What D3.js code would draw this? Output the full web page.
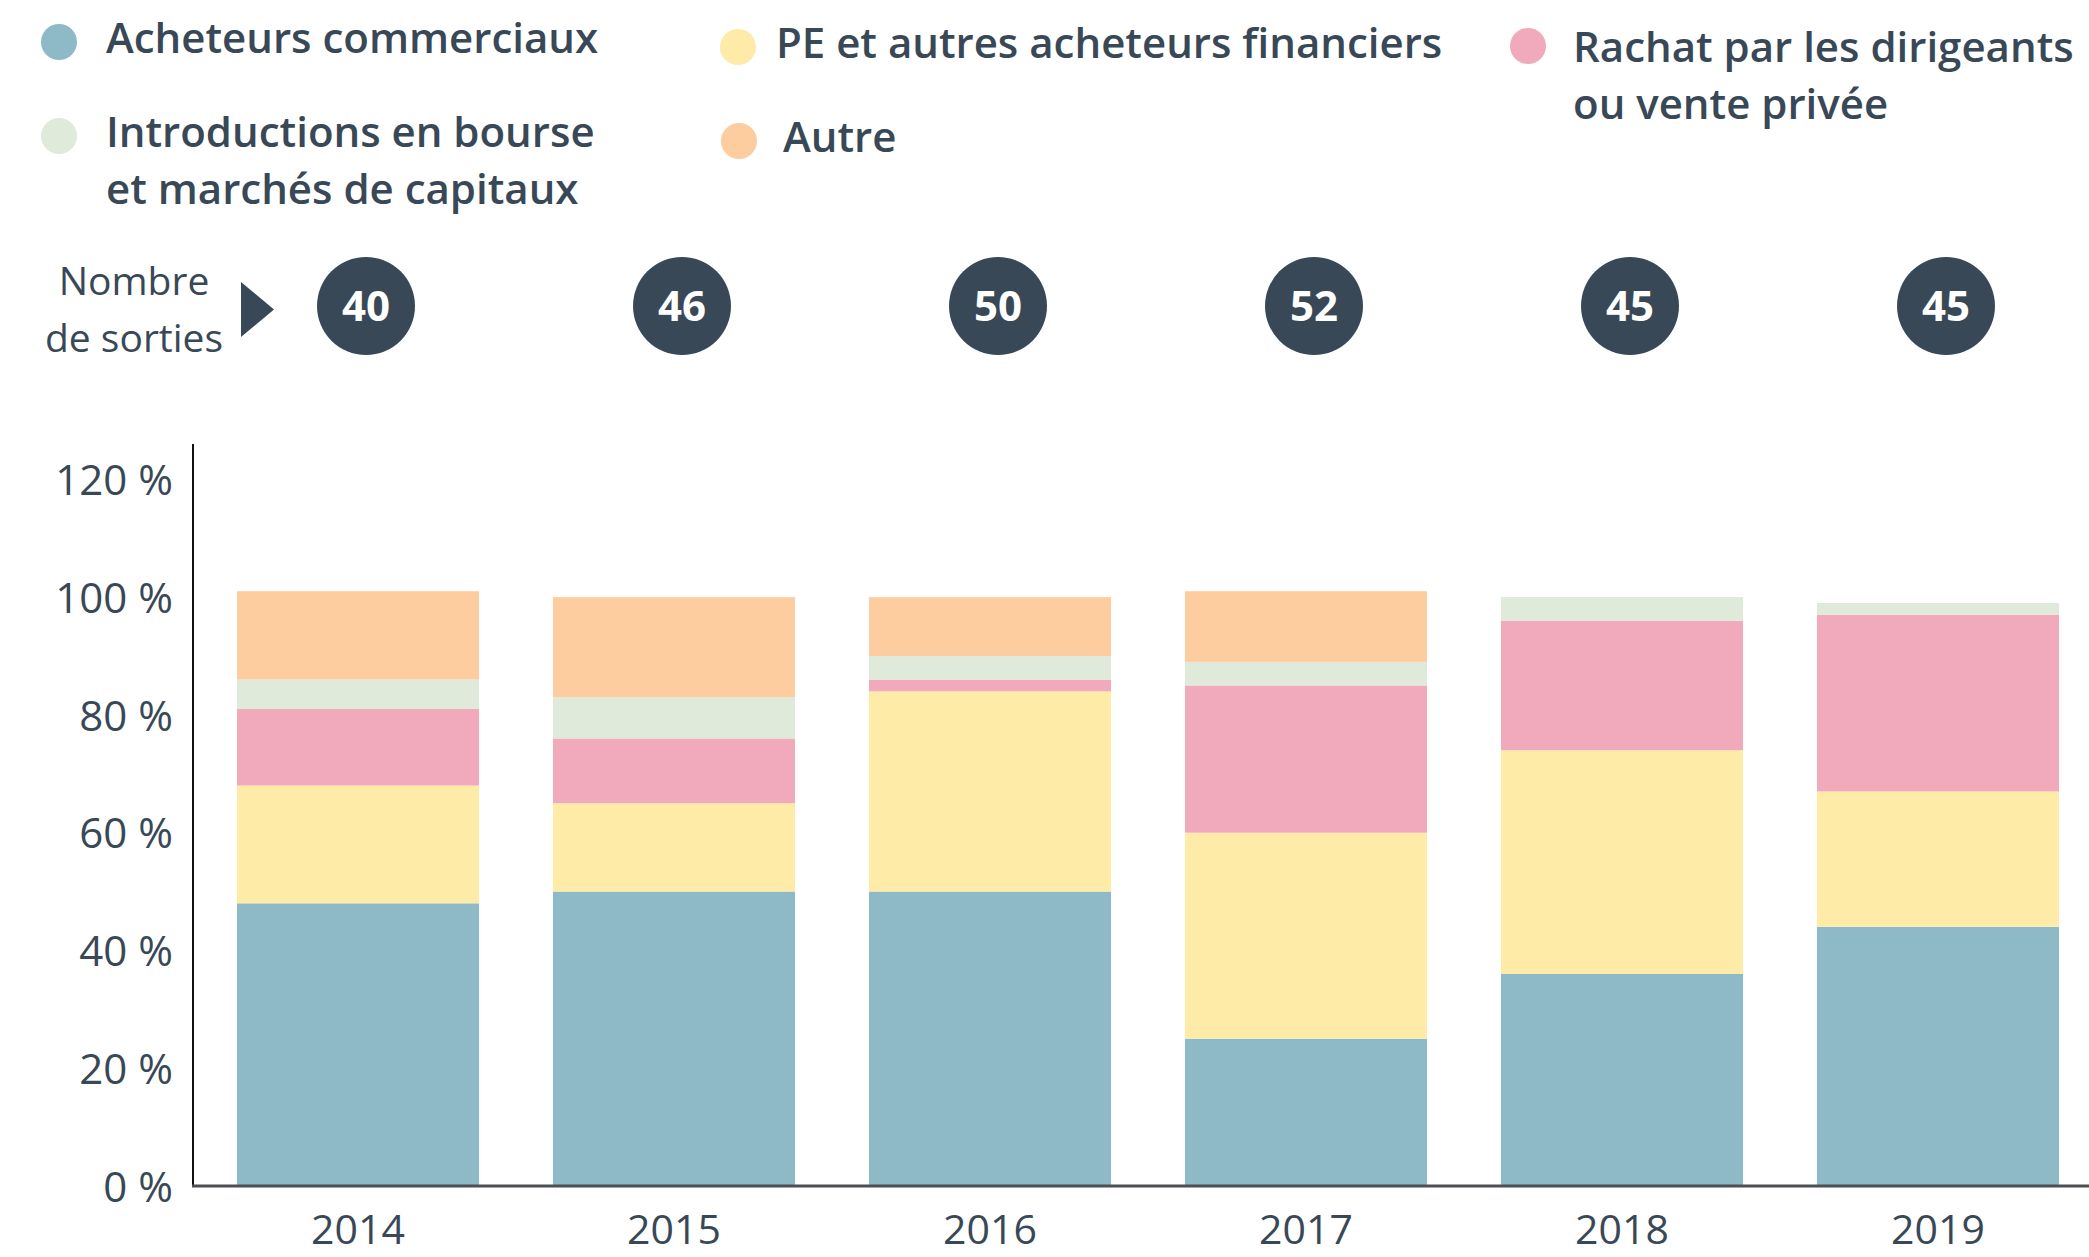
<!DOCTYPE html>
<html>
<head>
<meta charset="utf-8">
<script src="https://cdn.jsdelivr.net/npm/d3@7"></script>
<style>
  body { margin: 0; background: #fff; }
  svg { display: block; }
</style>
</head>
<body>
<svg id="chart"></svg>
<script>
const years = ['2014', '2015', '2016', '2017', '2018', '2019'];
const exitCounts = [40, 46, 50, 52, 45, 45];

// parts in %, bottom to top
const commercialBuyers = [48, 50, 50, 25, 36, 44];
const financialBuyers = [20, 15, 34, 35, 38, 23];
const managementBuyouts = [13, 11, 2, 25, 22, 30];
const publicMarkets = [5, 7, 4, 4, 4, 2];
const otherExits = [15, 17, 10, 12, 0, 0];

const yTicks = [0, 20, 40, 60, 80, 100, 120];

const seriesKeys = ['commercial', 'financial', 'buyout', 'ipo', 'other'];
const seriesLabels = {
  commercial: ['Acheteurs commerciaux'],
  financial: ['PE et autres acheteurs financiers'],
  buyout: ['Rachat par les dirigeants', 'ou vente privée'],
  ipo: ['Introductions en bourse', 'et marchés de capitaux'],
  other: ['Autre']
};
const colors = {
  commercial: '#8dbac6',
  financial: '#feeba8',
  buyout: '#f1aabb',
  ipo: '#dfeadb',
  other: '#fdcd9f'
};

const dark = '#394856';
const font = '"Open Sans", sans-serif';
const width = 2089;
const height = 1257;

const rows = years.map((year, i) => ({
  year,
  commercial: commercialBuyers[i],
  financial: financialBuyers[i],
  buyout: managementBuyouts[i],
  ipo: publicMarkets[i],
  other: otherExits[i]
}));

const svg = d3.select('#chart')
  .attr('width', width)
  .attr('height', height)
  .style('font-family', font);

const x = d3.scaleBand()
  .domain(years)
  .range([200, 2096])
  .paddingInner(0.234)
  .paddingOuter(0.117);

const y = d3.scaleLinear().domain([0, 126]).range([1186, 444]);

// bars
const stacked = d3.stack().keys(seriesKeys)(rows);

svg.append('g')
  .selectAll('g')
  .data(stacked)
  .join('g')
  .attr('fill', (layer) => colors[layer.key])
  .selectAll('rect')
  .data((layer) => layer)
  .join('rect')
  .attr('x', (d) => x(d.data.year))
  .attr('y', (d) => y(d[1]))
  .attr('width', x.bandwidth())
  .attr('height', (d) => y(d[0]) - y(d[1]));

// y axis
const yAxis = svg.append('g')
  .attr('transform', 'translate(193,0)')
  .call(d3.axisLeft(y).tickValues(yTicks).tickSize(0).tickSizeOuter(0).tickPadding(20)
    .tickFormat((d) => `${d}\u00a0%`))
  .attr('font-family', font);
yAxis.select('.domain').attr('stroke', '#111').attr('stroke-width', 2)
  .attr('d', `M0,${y.range()[1]}V${y(0)}`);
yAxis.selectAll('text')
  .attr('fill', dark)
  .style('font-size', '42px')
  .attr('dy', '0.36em');

// x axis
const xAxis = svg.append('g')
  .attr('transform', `translate(0,${y(0)})`)
  .call(d3.axisBottom(x).tickSize(0).tickSizeOuter(0))
  .attr('font-family', font);
xAxis.select('.domain')
  .attr('stroke', '#4d4f52')
  .attr('stroke-width', 3)
  .attr('d', `M192,0H${width}`);
xAxis.selectAll('text')
  .attr('fill', dark)
  .attr('y', 58)
  .attr('dy', 0)
  .style('font-size', '41px');

// exit counts
const counts = svg.append('g')
  .selectAll('g')
  .data(years.map((year, i) => ({ year, count: exitCounts[i] })))
  .join('g')
  .attr('transform', (d) => `translate(${x(d.year) + x.bandwidth() / 2 + 8},306)`);
counts.append('circle').attr('r', 49).attr('fill', dark);
counts.append('text')
  .attr('text-anchor', 'middle')
  .attr('dy', '0.36em')
  .attr('fill', '#fff')
  .style('font-size', '42px')
  .style('font-weight', 700)
  .text((d) => d.count);

svg.append('text')
  .attr('text-anchor', 'middle')
  .attr('fill', dark)
  .style('font-size', '39px')
  .selectAll('tspan')
  .data(['Nombre', 'de sorties'])
  .join('tspan')
  .attr('x', 134)
  .attr('y', (d, i) => 295 + i * 57)
  .text((d) => d);

svg.append('path')
  .attr('d', 'M241,282L274,309.5L241,337Z')
  .attr('fill', dark);

// legend
const legendPos = {
  commercial: { cx: 59, cy: 42, tx: 106, ty: 53 },
  financial: { cx: 738, cy: 47, tx: 776, ty: 58 },
  buyout: { cx: 1528, cy: 46, tx: 1573, ty: 62 },
  ipo: { cx: 59, cy: 136, tx: 106, ty: 147 },
  other: { cx: 739, cy: 141, tx: 783, ty: 152 }
};

const legend = svg.append('g')
  .selectAll('g')
  .data(seriesKeys)
  .join('g');
legend.append('circle')
  .attr('cx', (k) => legendPos[k].cx)
  .attr('cy', (k) => legendPos[k].cy)
  .attr('r', 18)
  .attr('fill', (k) => colors[k]);
legend.append('text')
  .attr('fill', dark)
  .style('font-size', '42px')
  .style('font-weight', 600)
  .selectAll('tspan')
  .data((k) => seriesLabels[k].map((line, i) => ({ k, line, i })))
  .join('tspan')
  .attr('x', (d) => legendPos[d.k].tx)
  .attr('y', (d) => legendPos[d.k].ty + d.i * 57)
  .text((d) => d.line);
</script>
</body>
</html>
